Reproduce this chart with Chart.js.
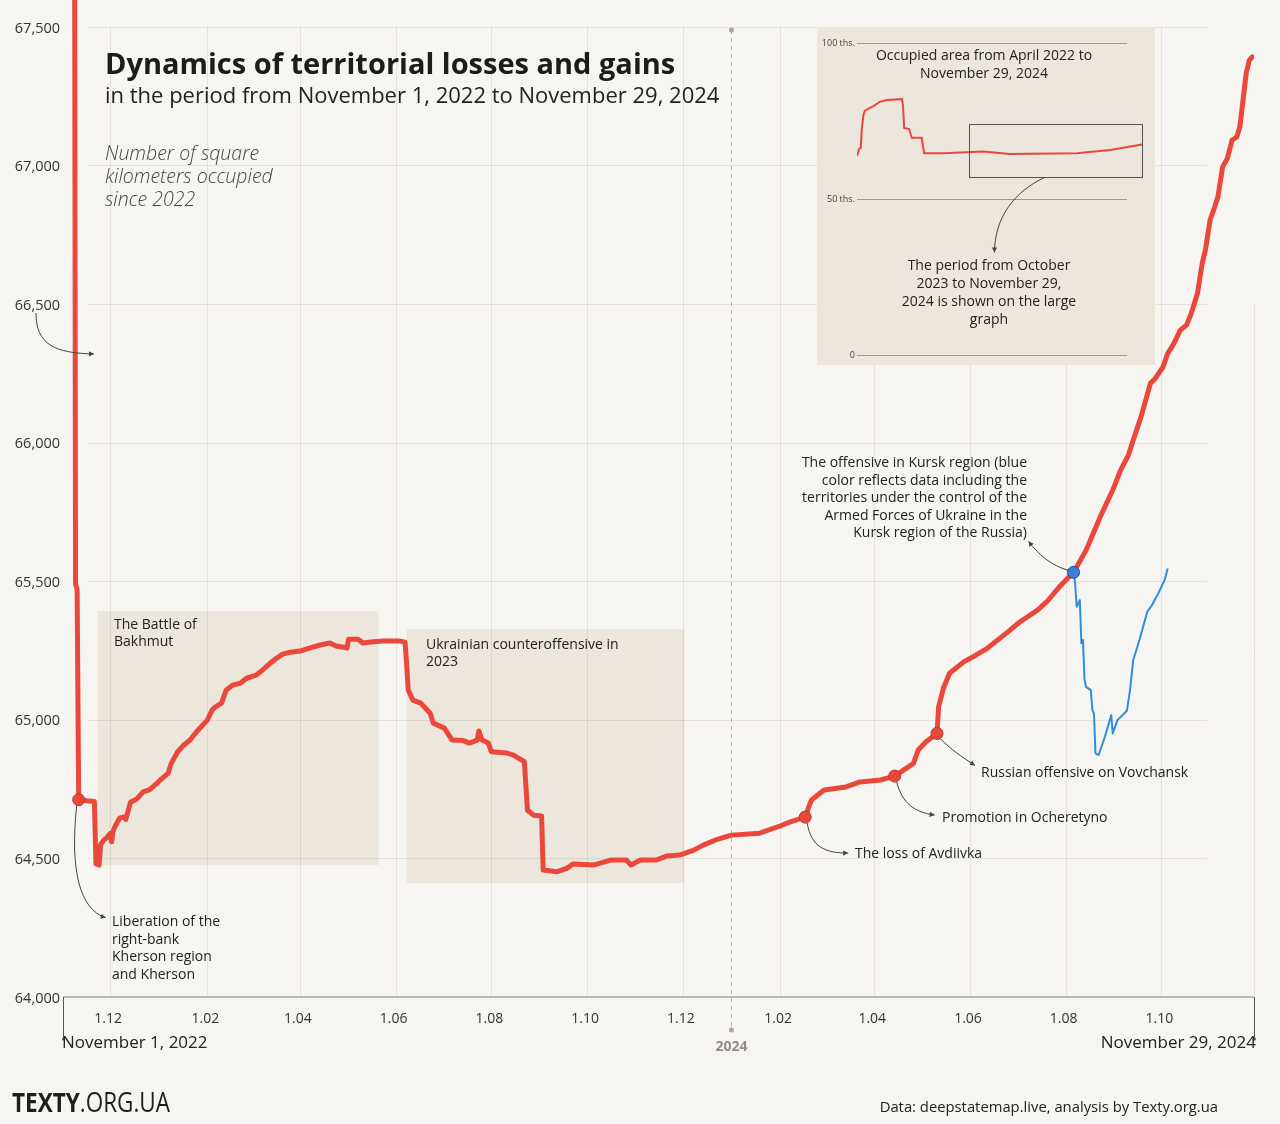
<!DOCTYPE html>
<html><head><meta charset="utf-8">
<script src="https://cdn.jsdelivr.net/npm/chart.js@4.4.1/dist/chart.umd.min.js"></script>
<style>
html,body{margin:0;padding:0;background:#f6f5f1;}
#wrap{position:relative;width:1280px;height:1124px;overflow:hidden;}
#main{position:absolute;left:0;top:0;}
#inset{position:absolute;left:817px;top:27px;}
</style></head><body>
<div id="wrap"><canvas id="main" width="1280" height="1124"></canvas><canvas id="inset" width="338" height="338"></canvas></div>
<script>
// ---------- DATA (days since November 1, 2022; square km) ----------
const redDays = [0,7,8,9,10,11,15,20,21,23,24,26,28,30,31,32,33,36,39,40,43,47,51,55,60,62,67,69,73,77,81,85,89,92,95,97,101,104,108,113,117,123,127,132,136,140,145,151,157,164,170,174,179,181,182,188,191,196,204,215,218,219,220,223,228,234,236,243,248,255,259,264,265,267,271,273,283,287,294,296,300,305,306,315,321,325,338,349,359,362,368,378,385,393,402,408,417,426,444,457,463,473,475,477,485,499,508,521,530,542,545,550,557,558,561,565,574,582,589,601,610,621,627,635,644,652,661,669,674,679,682,687,693,696,701,704,708,712,716,719,723,726,728,731,734,736,739,742,745,748,750,752,754,756,758];
const redValues = [69450,69450,65490,65470,64712,64712,64708,64705,64480,64476,64550,64566,64575,64590,64560,64600,64613,64645,64650,64640,64703,64714,64740,64747,64772,64783,64807,64843,64884,64909,64927,64956,64981,64999,65035,65046,65060,65107,65125,65132,65150,65161,65179,65204,65222,65237,65244,65248,65259,65270,65277,65266,65262,65259,65291,65291,65277,65281,65284,65284,65280,65200,65107,65071,65060,65024,64988,64970,64927,64925,64916,64927,64960,64927,64916,64885,64880,64873,64849,64674,64656,64653,64458,64452,64464,64480,64476,64494,64494,64476,64494,64494,64509,64512,64530,64548,64569,64584,64591,64617,64631,64649,64682,64711,64747,64758,64776,64783,64797,64843,64891,64921,64951,65047,65113,65168,65209,65234,65258,65312,65354,65396,65426,65480,65532,65612,65732,65829,65901,65955,66009,66093,66214,66231,66273,66321,66358,66406,66424,66466,66539,66647,66694,66803,66851,66887,66995,67025,67091,67103,67139,67235,67332,67380,67392];
// including the territories held by Ukraine in Kursk region
const blueDays = [644,645,646,648,649,650,651,652,655,656,657,658,660,664,668,669,672,678,680,682,686,691,694,698,702,704];
const blueValues = [65532,65493,65408,65432,65276,65288,65143,65119,65107,65035,65023,64879,64873,64939,65017,64951,64999,65033,65107,65215,65288,65390,65414,65456,65504,65546];
// marked events
const eventNames = ['Liberation of Kherson','The loss of Avdiivka','Promotion in Ocheretyno','Russian offensive on Vovchansk','The offensive in Kursk region'];
const eventDays = [10,473,530,557,644];
const eventValues = [64712,64649,64797,64951,65532];
// shaded periods
const periodNames = ['The Battle of Bakhmut','Ukrainian counteroffensive in 2023'];
const periodFrom = [22,219];
const periodTo = [201,396];
const periodTop = [65392,65327];
const periodBottom = [64476,64411];
// axes
const xTickDays = [30,92,151,212,273,334,395,457,517,578,639,700];
const xTickLabels = ['1.12','1.02','1.04','1.06','1.08','1.10','1.12','1.02','1.04','1.06','1.08','1.10'];
const yTickValues = [64000,64500,65000,65500,66000,66500,67000,67500];
const yTickLabels = ['64,000','64,500','65,000','65,500','66,000','66,500','67,000','67,500'];
const yearDay = 426; // January 1, 2024
const lastDay = 759; // November 29, 2024
// inset: days since April 1, 2022; thousand square km
const insetDays = [0,8,13,16,22,27,56,79,101,153,157,161,178,187,221,229,294,430,522,751,864,973];
const insetValues = [63.8,66.2,66.4,72.1,76.9,78.3,79.8,81.2,81.7,82.0,80.1,72.8,72.4,69.6,69.6,64.7,64.7,65.2,64.4,64.7,65.7,67.5];
const insetTicks = [0,50,100];
const insetTickLabels = ['0','50 ths.','100 ths.'];
const insetZoomFrom = 382, insetZoomTo = 973, insetZoomLow = 57.1, insetZoomHigh = 74;

// ---------- STYLE ----------
const F = '"Open Sans", Lato, sans-serif';
const RED = '#e9483b', RED_DARK = '#b8362c';
const BLUE = '#2f8ddf', BLUE_DARK = '#1f4e93';
const BG = '#f6f5f1', BOX = '#ece6dd', INK = '#222';
const FB = '14px '+F;
const DY = 1.5; // text vertical nudge

function txt(ctx, s, x, y, font, color, align){
  ctx.font = font; ctx.fillStyle = color; ctx.textAlign = align || 'left'; ctx.textBaseline = 'middle';
  ctx.fillText(s, x, y + DY);
}
function line(ctx, x0, y0, x1, y1){ ctx.beginPath(); ctx.moveTo(x0,y0); ctx.lineTo(x1,y1); ctx.stroke(); }
function head(ctx, fx, fy, x, y){
  const a = Math.atan2(y-fy, x-fx), L = 5, W = 2.6;
  ctx.beginPath();
  ctx.moveTo(x, y);
  ctx.lineTo(x - L*Math.cos(a) + W*Math.sin(a), y - L*Math.sin(a) - W*Math.cos(a));
  ctx.lineTo(x - L*Math.cos(a) - W*Math.sin(a), y - L*Math.sin(a) + W*Math.cos(a));
  ctx.closePath(); ctx.fill();
}
function curve(ctx, p){
  ctx.beginPath(); ctx.moveTo(p[0],p[1]); ctx.bezierCurveTo(p[2],p[3],p[4],p[5],p[6],p[7]); ctx.stroke();
  head(ctx, p[4], p[5], p[6], p[7]);
}

const mainPlugin = {
  id: 'mainDecor',
  beforeDraw(chart){
    const ctx = chart.ctx, xs = chart.scales.x, ys = chart.scales.y, ca = chart.chartArea;
    ctx.save();
    ctx.fillStyle = BG; ctx.fillRect(0,0,chart.width,chart.height);
    ctx.fillStyle = BOX;
    for (let i=0;i<periodFrom.length;i++){
      const x0 = xs.getPixelForValue(periodFrom[i]), x1 = xs.getPixelForValue(periodTo[i]);
      const y0 = ys.getPixelForValue(periodTop[i]), y1 = ys.getPixelForValue(periodBottom[i]);
      ctx.fillRect(x0, y0, x1-x0, y1-y0);
    }
    ctx.strokeStyle = 'rgba(70,55,30,0.10)'; ctx.lineWidth = 1;
    const gTop = ys.getPixelForValue(67500), gBot = ys.getPixelForValue(64000);
    yTickValues.forEach(v => { if (v === 64000) return; const y = Math.round(ys.getPixelForValue(v))+0.5; line(ctx, ca.left+25, y, ca.right-47, y); });
    xTickDays.forEach(d => { const x = Math.round(xs.getPixelForValue(d))+0.5; line(ctx, x, gTop, x, gBot); });
    const xe = Math.round(xs.getPixelForValue(lastDay))+0.5;
    line(ctx, xe, ys.getPixelForValue(66500), xe, gBot);
    const xy = xs.getPixelForValue(yearDay);
    ctx.strokeStyle = '#b9b6b0'; ctx.setLineDash([4,4]); line(ctx, xy, 30, xy, 1030); ctx.setLineDash([]);
    ctx.fillStyle = '#aaa7a1';
    ctx.beginPath(); ctx.arc(xy, 30, 2.5, 0, Math.PI*2); ctx.fill();
    ctx.beginPath(); ctx.arc(xy, 1030, 2.5, 0, Math.PI*2); ctx.fill();
    txt(ctx, '2024', xy, 1046, 'bold 14px '+F, '#8f8c87', 'center');
    ctx.strokeStyle = '#a9a6a1'; ctx.lineWidth = 1.5;
    line(ctx, ca.left, gBot, ca.right, gBot);
    ctx.strokeStyle = '#555'; ctx.lineWidth = 1; ctx.fillStyle = '#555';
    [0, lastDay].forEach(d => { const x = Math.round(xs.getPixelForValue(d))+0.5; line(ctx, x, gBot, x, 1038); ctx.beginPath(); ctx.arc(x, 1039, 1.5, 0, Math.PI*2); ctx.fill(); });
    yTickValues.forEach((v,i) => txt(ctx, yTickLabels[i], 60, ys.getPixelForValue(v), '14.5px '+F, '#333', 'right'));
    xTickDays.forEach((d,i) => txt(ctx, xTickLabels[i], xs.getPixelForValue(d)-2, 1018, '14px '+F, '#333', 'center'));
    txt(ctx, 'November 1, 2022', 62, 1042, '17px '+F, INK, 'left');
    txt(ctx, 'November 29, 2024', 1256, 1042, '17px '+F, INK, 'right');
    txt(ctx, 'Dynamics of territorial losses and gains', 105, 64, 'bold 29px '+F, '#1c1c1c', 'left');
    txt(ctx, 'in the period from November 1, 2022 to November 29, 2024', 105, 95, '22px '+F, INK, 'left');
    ['Number of square','kilometers occupied','since 2022'].forEach((s,i) => txt(ctx, s, 105, 153+i*23, 'italic 300 19.5px '+F, '#444', 'left'));
    txt(ctx, 'The Battle of', 114, 624, FB, INK); txt(ctx, 'Bakhmut', 114, 641, FB, INK);
    txt(ctx, 'Ukrainian counteroffensive in', 426, 644, FB, INK); txt(ctx, '2023', 426, 661, FB, INK);
    ctx.save();
    ctx.font = 'bold 27px '+F; const w1 = ctx.measureText('TEXTY').width;
    ctx.font = '27px '+F; const w2 = ctx.measureText('.ORG.UA').width;
    const sx = 158/(w1+w2);
    ctx.translate(12, 1103); ctx.scale(sx, 1);
    txt(ctx, 'TEXTY', 0, 0, 'bold 27px '+F, '#1e1e1e', 'left');
    txt(ctx, '.ORG.UA', w1, 0, '27px '+F, '#1e1e1e', 'left');
    ctx.restore();
    txt(ctx, 'Data: deepstatemap.live, analysis by Texty.org.ua', 1218, 1106, '14.8px '+F, INK, 'right');
    ctx.restore();
  },
  afterDatasetsDraw(chart){
    const ctx = chart.ctx, xs = chart.scales.x, ys = chart.scales.y;
    ctx.save();
    ctx.strokeStyle = '#444'; ctx.fillStyle = '#444'; ctx.lineWidth = 1;
    const px = i => xs.getPixelForValue(eventDays[i]), py = i => ys.getPixelForValue(eventValues[i]);
    let x = px(0), y = py(0);
    curve(ctx, [x-2, y+6, x-9, y+70, x+1, y+110, x+27, y+118]);
    curve(ctx, [36, 313, 36, 345, 55, 353, 94, 354]);
    x = px(1); y = py(1);
    curve(ctx, [x+2, y+6, x+6, y+30, x+20, y+36, x+43, y+36]);
    x = px(2); y = py(2);
    curve(ctx, [x+2, y+6, x+8, y+28, x+20, y+36, x+40, y+39]);
    x = px(3); y = py(3);
    curve(ctx, [x+3, y+5, x+14, y+16, x+24, y+23, x+38, y+32]);
    x = px(4); y = py(4);
    curve(ctx, [x-5, y-2, x-20, y-6, x-34, y-16, x-45, y-31]);
    ['Liberation of the','right-bank','Kherson region','and Kherson'].forEach((s,i) => txt(ctx, s, 112, 921+i*17.5, FB, INK));
    txt(ctx, 'The loss of Avdiivka', 855, 853, FB, INK);
    txt(ctx, 'Promotion in Ocheretyno', 942, 817, FB, INK);
    txt(ctx, 'Russian offensive on Vovchansk', 981, 772, FB, INK);
    ['The offensive in Kursk region (blue','color reflects data including the','territories under the control of the','Armed Forces of Ukraine in the','Kursk region of the Russia)'].forEach((s,i) => txt(ctx, s, 1027, 462+i*17.5, FB, INK, 'right'));
    ctx.restore();
  }
};

const pts = (xsArr, ysArr) => xsArr.map((d,i) => ({x:d, y:ysArr[i]}));

new Chart(document.getElementById('main'), {
  type: 'line',
  data: { datasets: [
    { label: 'events', data: pts(eventDays, eventValues), showLine: false, pointRadius: 6, pointHoverRadius: 6,
      pointBackgroundColor: [RED,RED,RED,RED,'#3b7fd6'], pointBorderColor: [RED_DARK,RED_DARK,RED_DARK,RED_DARK,BLUE_DARK], pointBorderWidth: 1 },
    { label: 'occupied', data: pts(redDays, redValues), borderColor: RED, borderWidth: 5, pointRadius: 0, tension: 0, borderJoinStyle: 'round', borderCapStyle: 'round' },
    { label: 'with Kursk', data: pts(blueDays, blueValues), borderColor: BLUE, borderWidth: 2, pointRadius: 0, tension: 0, borderJoinStyle: 'round' }
  ]},
  options: {
    responsive: false, animation: false, devicePixelRatio: 1,
    layout: { autoPadding: false, padding: { left: 63, right: 26, top: 0, bottom: 127 } },
    scales: {
      x: { type: 'linear', min: 0, max: lastDay, display: false },
      y: { type: 'linear', min: 64000, max: 67597, display: false }
    },
    plugins: { legend: { display: false }, tooltip: { enabled: false } },
    events: []
  },
  plugins: [mainPlugin]
});

const insetPlugin = {
  id: 'insetDecor',
  beforeDraw(chart){
    const ctx = chart.ctx, xs = chart.scales.x, ys = chart.scales.y, ca = chart.chartArea;
    ctx.save();
    ctx.fillStyle = BOX; ctx.fillRect(0,0,chart.width,chart.height);
    ctx.strokeStyle = '#9c978f'; ctx.lineWidth = 1;
    insetTicks.forEach((v,i) => {
      const y = Math.round(ys.getPixelForValue(v))+0.5;
      line(ctx, ca.left, y, ca.right-15, y);
      txt(ctx, insetTickLabels[i], ca.left-2, y-2, '9px '+F, '#444', 'right');
    });
    txt(ctx, 'Occupied area from April 2022 to', 167, 28, FB, INK, 'center');
    txt(ctx, 'November 29, 2024', 167, 46, FB, INK, 'center');
    ['The period from October','2023 to November 29,','2024 is shown on the large','graph'].forEach((s,i) => txt(ctx, s, 172, 238+i*17.7, FB, INK, 'center'));
    ctx.restore();
  },
  afterDatasetsDraw(chart){
    const ctx = chart.ctx, xs = chart.scales.x, ys = chart.scales.y;
    ctx.save();
    const x0 = Math.round(xs.getPixelForValue(insetZoomFrom))+0.5, x1 = Math.round(xs.getPixelForValue(insetZoomTo))+0.5;
    const y0 = Math.round(ys.getPixelForValue(insetZoomHigh))+0.5, y1 = Math.round(ys.getPixelForValue(insetZoomLow))+0.5;
    ctx.strokeStyle = '#555'; ctx.lineWidth = 1; ctx.strokeRect(x0, y0, x1-x0, y1-y0);
    ctx.fillStyle = '#444'; ctx.strokeStyle = '#444';
    const sx = x0 + 75, sy = y1;
    curve(ctx, [sx, sy, sx-30, sy+14, sx-50, sy+40, sx-50, sy+75]);
    ctx.restore();
  }
};

new Chart(document.getElementById('inset'), {
  type: 'line',
  data: { datasets: [{ data: pts(insetDays, insetValues), borderColor: RED, borderWidth: 2, pointRadius: 0, tension: 0 }] },
  options: {
    responsive: false, animation: false, devicePixelRatio: 1,
    layout: { autoPadding: false, padding: { left: 40, right: 13, top: 16, bottom: 10 } },
    scales: { x: { type: 'linear', min: 0, max: 973, display: false }, y: { min: 0, max: 100, display: false } },
    plugins: { legend: { display: false }, tooltip: { enabled: false } },
    events: []
  },
  plugins: [insetPlugin]
});
</script>
</body></html>
